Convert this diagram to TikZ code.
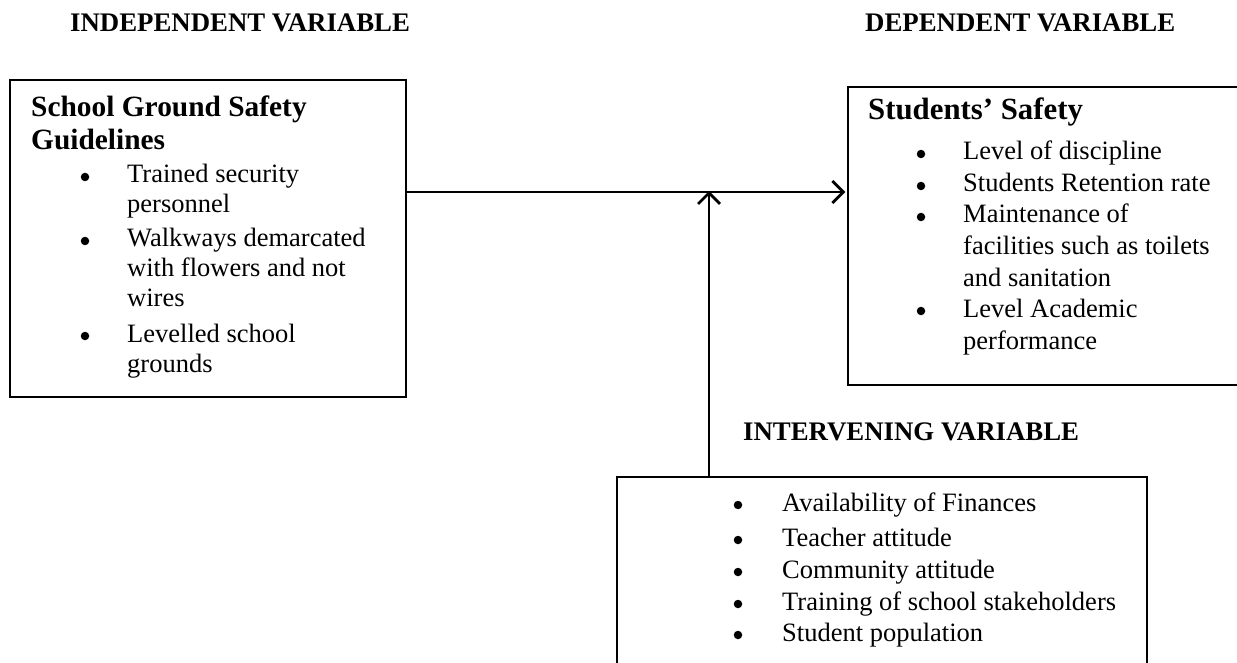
\documentclass[tikz,border=0pt]{standalone}
\usepackage{fontspec}
\setmainfont{Liberation Serif}
\usetikzlibrary{arrows.meta}
\newcommand{\mlines}[1]{\begin{tabular}[t]{@{}l@{}}#1\end{tabular}}
\tikzset{
  box/.style={draw, line width=1.4pt, minimum width=#1, inner sep=0pt},
  head/.style={anchor=base west, inner sep=0pt, font=\fontsize{26.8}{30}\selectfont\bfseries},
  ttl/.style={anchor=base west, inner sep=0pt, font=\fontsize{#1}{33}\selectfont\bfseries},
  bul/.style={circle, fill, inner sep=0pt, minimum size=8.5pt},
  itm/.style={anchor=base west, inner sep=0pt, font=\fontsize{26.5}{30}\selectfont},
  conn/.style={line width=2.8pt, -{Straight Barb[length=11pt,width=22pt,line width=2.8pt]}}
}
\begin{document}
\begin{tikzpicture}[x=1pt,y=-1pt]
\useasboundingbox (0,0) rectangle (1237,663);
\clip (0,0) rectangle (1237,663);
% headings
\node[head] (hind) at (70,32) {INDEPENDENT VARIABLE};
\node[head] (hdep) at (865,32) {DEPENDENT VARIABLE};
\node[head] (hint) at (743,440) {INTERVENING VARIABLE};
% boxes
\node[box=396pt, minimum height=317pt] (lb) at (208,238.5) {};
\node[box=397pt, minimum height=298pt] (rb) at (1046.5,236) {};
\node[box=530pt, minimum height=220pt] (ib) at (882,587) {};
% left box content
\node[ttl=29.4] (lt) at (31,117) {\mlines{School Ground Safety\\Guidelines}};
\node[bul] (lb1) at (85,177) {};
\node[itm] (li1) at (127,183) {\mlines{Trained security\\personnel}};
\node[bul] (lb2) at (85,241) {};
\node[itm] (li2) at (127,247) {\mlines{Walkways demarcated\\with flowers and not\\wires}};
\node[bul] (lb3) at (85,336) {};
\node[itm] (li3) at (127,342) {\mlines{Levelled school\\grounds}};
% right box content
\node[ttl=30.8] (rt) at (868,120) {Students’ Safety};
\node[bul] (rb1) at (921,154) {};
\node[itm] (ri1) at (963,160) {Level of discipline};
\node[bul] (rb2) at (921,186) {};
\node[itm] (ri2) at (963,192) {Students Retention rate};
\node[bul] (rb3) at (921,217) {};
\node[itm, font=\fontsize{26.5}{31.5}\selectfont] (ri3) at (963,223) {\mlines{Maintenance of\\facilities such as toilets\\and sanitation}};
\node[bul] (rb4) at (921,311) {};
\node[itm, font=\fontsize{26.5}{32}\selectfont] (ri4) at (963,317) {\mlines{Level Academic\\performance}};
% intervening box content
\node[bul] (ib1) at (738,505) {};
\node[itm] (ii1) at (782,511) {Availability of Finances};
\node[bul] (ib2) at (738,540) {};
\node[itm] (ii2) at (782,546) {Teacher attitude};
\node[bul] (ib3) at (738,572) {};
\node[itm] (ii3) at (782,578) {Community attitude};
\node[bul] (ib4) at (738,604) {};
\node[itm] (ii4) at (782,610) {Training of school stakeholders};
\node[bul] (ib5) at (738,635) {};
\node[itm] (ii5) at (782,641) {Student population};
% connectors
\coordinate (j) at (709,192);
\draw[conn] (lb.east |- j) -- ([xshift=-2pt]rb.west |- j);
\draw[conn] (ib.north -| j) -- ([yshift=1pt]j);
\end{tikzpicture}
\end{document}
